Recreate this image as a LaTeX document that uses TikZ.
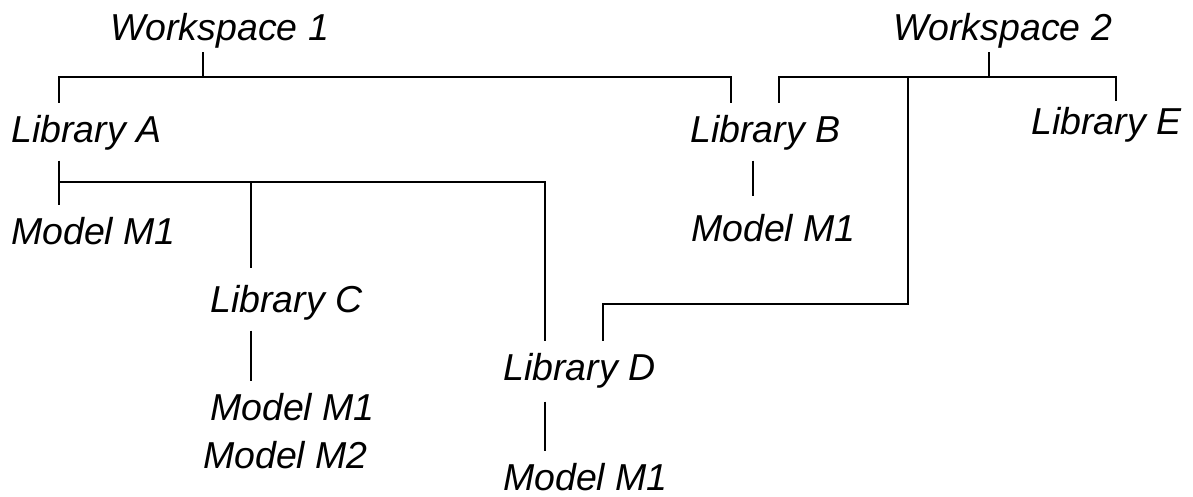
\documentclass[tikz,border=0pt]{standalone}
\usepackage{fontspec}
\setmainfont{Liberation Sans}

\tikzset{
  item/.style={anchor=base west, inner xsep=0pt, inner ysep=13pt,
    text height=26pt, text depth=5.5pt,
    font=\fontsize{37.5}{42}\selectfont\itshape},
  workspace/.style={item, inner ysep=6.5pt},
  link/.style={line width=2.5pt}
}

\begin{document}
\begin{tikzpicture}[x=1pt,y=-1pt]
\useasboundingbox (0,0) rectangle (1193,496);

% workspaces
\node[workspace] (ws1) at (110,40) {Workspace 1};
\node[workspace] (ws2) at (893,40) {Workspace 2};

% libraries
\node[item] (libA) at (11,142) {Library A};
\node[item] (libB) at (690,142) {Library B};
\node[item, inner ysep=7pt] (libE) at (1031,134) {Library E};
\node[item] (libC) at (210,312) {Library C};
\node[item] (libD) at (503,380) {Library D};

% models
\node[item] (mA) at (11,244) {Model M1};
\node[item] (mB) at (691,241) {Model M1};
\node[item] (mC1) at (210,420) {Model M1};
\node[item] (mC2) at (203,468) {Model M2};
\node[item] (mD) at (503,490) {Model M1};

% junctions
\coordinate (w1) at (203,77);
\coordinate (w1a) at (59,77);
\coordinate (w1b) at (731,77);
\coordinate (w2) at (989,77);
\coordinate (w2a) at (779,77);
\coordinate (w2b) at (1116,77);
\coordinate (w2d) at (908,77);
\coordinate (dk) at (603,304);
\coordinate (a1) at (59,182);
\coordinate (a2) at (251,182);
\coordinate (a3) at (545,182);
\coordinate (b1) at (753,0);

% workspace 1
\draw[link] (ws1.south -| w1) -- (w1);
\draw[link] (libA.north -| w1a) -- (w1a) -- (w1b) -- (libB.north -| w1b);

% workspace 2
\draw[link] (ws2.south -| w2) -- (w2);
\draw[link] (libB.north -| w2a) -- (w2a) -- (w2b) -- (libE.north -| w2b);
\draw[link] (w2d) |- (dk) -- (libD.north -| dk);

% library A
\draw[link] (libA.south -| a1) -- (mA.north -| a1);
\draw[link, shorten >=5pt] (a1) -| (libC.north -| a2);
\draw[link] (a2) -- (a3) -- (libD.north -| a3);

% library B, C, D
\draw[link, shorten >=6pt] (libB.south -| b1) -- (mB.north -| b1);
\draw[link] (libC.south -| a2) -- (mC1.north -| a2);
\draw[link, shorten <=3pt] (libD.south -| a3) -- (mD.north -| a3);

\end{tikzpicture}
\end{document}
